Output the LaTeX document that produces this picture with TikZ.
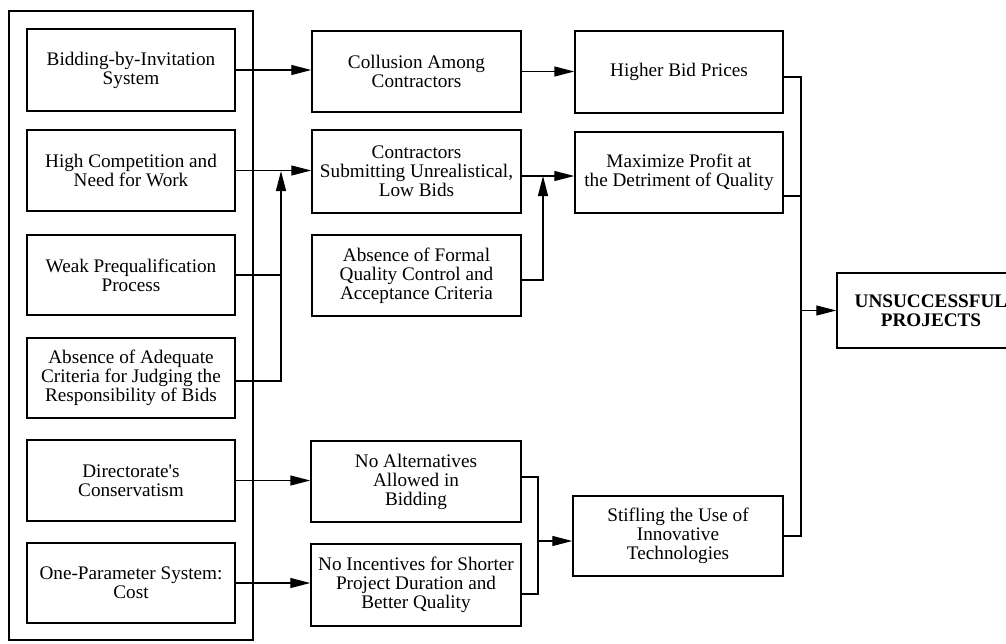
\documentclass[tikz,border=0pt]{standalone}
\usepackage{fontspec}
\setmainfont{Liberation Serif}
\usetikzlibrary{arrows.meta,calc}
\begin{document}
\begin{tikzpicture}[x=1pt,y=-1pt,
  box/.style={draw,line width=1.5pt,align=center,inner sep=0pt,
    font=\fontsize{19.2}{19}\selectfont},
  link/.style={line width=1.3pt},
  arr/.style={link,-{Triangle[length=20pt,width=10pt]}}]
\useasboundingbox (0,0) rectangle (1006,643);
\clip (0,0) rectangle (1006,643);

% group frame around the causes
\node[draw,line width=1.5pt,minimum width=244pt,minimum height=629pt] (grp) at (131,325.5) {};

% causes
\node[box,minimum width=208pt,minimum height=82pt] (L1) at (131,70) {Bidding-by-Invitation\\System};
\node[box,minimum width=208pt,minimum height=81pt] (L2) at (131,170.5) {High Competition and\\Need for Work};
\node[box,minimum width=208pt,minimum height=80pt] (L3) at (131,275) {Weak Prequalification\\Process};
\node[box,minimum width=208pt,minimum height=80pt] (L4) at (131,378) {Absence of Adequate\\Criteria for Judging the\\Responsibility of Bids};
\node[box,minimum width=208pt,minimum height=81pt] (L5) at (131,480.5) {Directorate\textquotesingle s\\Conservatism};
\node[box,minimum width=208pt,minimum height=80pt] (L6) at (131,583) {One-Parameter System:\\Cost};

% intermediate effects
\node[box,minimum width=209pt,minimum height=81pt] (M1) at (416.5,71.5) {Collusion Among\\Contractors};
\node[box,minimum width=209pt,minimum height=83pt] (M2) at (416.5,171.5) {Contractors\\Submitting Unrealistical,\\Low Bids};
\node[box,minimum width=209pt,minimum height=81pt] (M3) at (416.5,275.5) {Absence of Formal\\Quality Control and\\Acceptance Criteria};
\node[box,minimum width=210pt,minimum height=81pt] (M4) at (416,481.5) {No Alternatives\\Allowed in\\Bidding};
\node[box,minimum width=210pt,minimum height=82pt] (M5) at (416,585) {No Incentives for Shorter\\Project Duration and\\Better Quality};

% consequences
\node[box,minimum width=208pt,minimum height=82pt] (R1) at (679,72) {Higher Bid Prices};
\node[box,minimum width=208pt,minimum height=81pt] (R2) at (679,172.5) {Maximize Profit at\\the Detriment of Quality};
\node[box,minimum width=210pt,minimum height=80pt] (R3) at (678,536) {Stifling the Use of\\Innovative\\Technologies};

% outcome
\node[box,minimum width=188pt,minimum height=75pt] (U) at (931,310.5) {\bfseries UNSUCCESSFUL\\\bfseries PROJECTS};

% junction points
\coordinate (v1) at (281,171);
\coordinate (v2) at (543,176);
\coordinate (bus) at (801,0);
\coordinate (br) at (538,0);
\coordinate (m2o) at ([yshift=-4.5pt]M2.east);
\coordinate (m3o) at ([yshift=-4.5pt]M3.east);
\coordinate (l4o) at ([yshift=-3pt]L4.east);
\coordinate (r1o) at ([yshift=-5pt]R1.east);
\coordinate (r2o) at ([yshift=-23.5pt]R2.east);
\coordinate (m4o) at ([yshift=4.5pt]M4.east);
\coordinate (m5o) at ([yshift=-9pt]M5.east);
\coordinate (s3i) at ([yshift=-5pt]R3.west);

% cause links
\draw[arr] (L1.east) -- (L1.east -| M1.west);
\draw[arr] (L2.east) -- (L2.east -| M2.west);
\draw[link] (L3.east) -- (L3.east -| v1);
\draw[arr] (l4o) -| (v1);
\draw[arr] (L5.east) -- (L5.east -| M4.west);
\draw[arr] (L6.east) -- (L6.east -| M5.west);

% middle links
\draw[arr] (M1.east) -- (M1.east -| R1.west);
\draw[arr] (m2o) -- (m2o -| R2.west);
\draw[arr] (m3o) -| (v2);
\draw[link] (m4o) -| (br |- m5o) -- (m5o);
\draw[arr] (br |- s3i) -- (s3i);

% collector bus to the outcome
\draw[link] (r1o) -| (bus |- R3.east) -- (R3.east);
\draw[link] (r2o) -- (bus |- r2o);
\draw[arr] (bus |- U.west) -- (U.west);
\end{tikzpicture}
\end{document}
